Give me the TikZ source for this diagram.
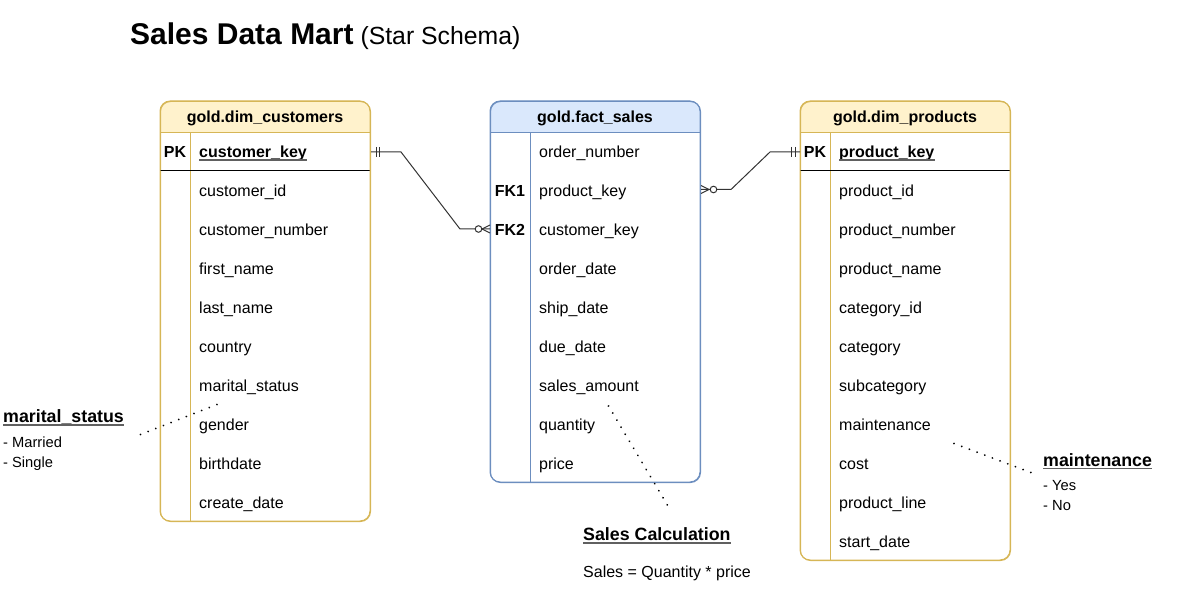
\documentclass[tikz,border=0pt]{standalone}
\usepackage{fontspec}
\setmainfont{Liberation Sans}
\definecolor{dimfill}{HTML}{FFF2CC}
\definecolor{dimline}{HTML}{D6B656}
\definecolor{factfill}{HTML}{DAE8FC}
\definecolor{factline}{HTML}{6C8EBF}
\definecolor{ulgray}{HTML}{606060}
\definecolor{conngray}{HTML}{333333}
\newcommand{\rowfnt}{\fontsize{16}{19}\selectfont}
\newcommand{\hdrfnt}{\fontsize{16}{19}\selectfont\bfseries}
\newcommand{\notehfnt}{\fontsize{17.8}{21}\selectfont\bfseries}
\newcommand{\noteifnt}{\fontsize{14.7}{17}\selectfont}
\begin{document}
\begin{tikzpicture}[x=1pt,y=-1pt,
  tbl/.style={draw=#1, rounded corners=10pt, line width=1pt, inner sep=0pt, anchor=north west, minimum width=210pt},
  row/.style={anchor=base west, inner sep=0pt, font=\rowfnt},
  keylbl/.style={anchor=base, inner sep=0pt, font=\hdrfnt},
  hdr/.style={anchor=base, inner sep=0pt, font=\hdrfnt},
  noteh/.style={anchor=base west, inner sep=0pt, font=\notehfnt},
  notei/.style={anchor=base west, inner sep=0pt, font=\noteifnt},
  conn/.style={draw=conngray, line width=1pt},
  dots/.style={draw=black, line width=2pt, line cap=round, dash pattern=on 0.01pt off 8.2pt},
  ul/.style={draw=ulgray, line width=1.6pt}
]
\useasboundingbox (0,0) rectangle (1180,593);

% ---------- title ----------
\node[anchor=base west, inner sep=0pt] (title) at (130,44.5)
  {\fontsize{30}{34}\selectfont\bfseries Sales Data Mart\fontsize{24.8}{28}\mdseries\ (Star Schema)};

% ---------- customers table ----------
\begin{scope}
  \clip[rounded corners=10pt] (160,101) rectangle (370,521);
  \fill[dimfill] (160,101) rectangle (370,133);
\end{scope}
\node[tbl=dimline, minimum height=420pt] (cust) at (160,101) {};
\draw[dimline, line width=1pt] (160,133) -- (370,133);
\draw[dimline, line width=1pt] (190,133) -- (190,521);
\draw[black, line width=1pt] (160,171) -- (370,171);
\draw[dimline, line width=1pt, rounded corners=10pt] (160,101) rectangle (370,521);
\node[hdr] (cust-t) at (265,122.5) {gold.dim\_customers};
\node[keylbl] (cust-pk) at (175,157.5) {PK};
\node[row, font=\hdrfnt] (c0) at (199,157.5) {customer\_key};
\draw[ul] ([yshift=-2.5pt]c0.base west) -- ([yshift=-2.5pt]c0.base east);
\foreach \t [count=\i from 1] in {{customer\_id},{customer\_number},{first\_name},{last\_name},{country},{marital\_status},{gender},{birthdate},{create\_date}}
  \node[row] (c\i) at (199,{157.5+39*\i}) {\t};

% ---------- fact table ----------
\begin{scope}
  \clip[rounded corners=10pt] (490,101) rectangle (700,482);
  \fill[factfill] (490,101) rectangle (700,133);
\end{scope}
\node[tbl=factline, minimum height=381pt] (fact) at (490,101) {};
\draw[factline, line width=1pt] (490,133) -- (700,133);
\draw[factline, line width=1pt] (530,133) -- (530,482);
\draw[factline, line width=1pt, rounded corners=10pt] (490,101) rectangle (700,482);
\node[hdr] (fact-t) at (595,122.5) {gold.fact\_sales};
\node[keylbl] (fact-fk1) at (510,196.5) {FK1};
\node[keylbl] (fact-fk2) at (510,235.5) {FK2};
\foreach \t [count=\i from 0] in {{order\_number},{product\_key},{customer\_key},{order\_date},{ship\_date},{due\_date},{sales\_amount},{quantity},{price}}
  \node[row] (f\i) at (539,{157.5+39*\i}) {\t};

% ---------- products table ----------
\begin{scope}
  \clip[rounded corners=10pt] (800,101) rectangle (1010,560);
  \fill[dimfill] (800,101) rectangle (1010,133);
\end{scope}
\node[tbl=dimline, minimum height=459pt] (prod) at (800,101) {};
\draw[dimline, line width=1pt] (800,133) -- (1010,133);
\draw[dimline, line width=1pt] (830,133) -- (830,560);
\draw[black, line width=1pt] (800,171) -- (1010,171);
\draw[dimline, line width=1pt, rounded corners=10pt] (800,101) rectangle (1010,560);
\node[hdr] (prod-t) at (905,122.5) {gold.dim\_products};
\node[keylbl] (prod-pk) at (815,157.5) {PK};
\node[row, font=\hdrfnt] (p0) at (839,157.5) {product\_key};
\draw[ul] ([yshift=-2.5pt]p0.base west) -- ([yshift=-2.5pt]p0.base east);
\foreach \t [count=\i from 1] in {{product\_id},{product\_number},{product\_name},{category\_id},{category},{subcategory},{maintenance},{cost},{product\_line},{start\_date}}
  \node[row] (p\i) at (839,{157.5+39*\i}) {\t};

% ---------- connectors ----------
\coordinate (ca) at ([yshift=5.5pt]c0.base -| cust.east);
\coordinate (fa) at ([yshift=6.5pt]f2.base -| fact.west);
\draw[conn] (ca) -- ++(30,0) -- ([xshift=-30pt]fa) -- (fa);
\draw[conn] ([xshift=5pt]ca) ++(0,-5) -- ++(0,10);
\draw[conn] ([xshift=8.5pt]ca) ++(0,-5) -- ++(0,10);
\draw[conn, fill=white] ([xshift=-11.5pt]fa) circle (3.3pt);
\draw[conn] ([xshift=-8pt]fa) -- ([yshift=-4pt]fa);
\draw[conn] ([xshift=-8pt]fa) -- ([yshift=4pt]fa);

\coordinate (fb) at ([yshift=7pt]f1.base -| fact.east);
\coordinate (pb) at ([yshift=5.5pt]p0.base -| prod.west);
\draw[conn] (fb) -- ++(30,0) -- ([xshift=-30pt]pb) -- (pb);
\draw[conn] ([xshift=-5pt]pb) ++(0,-5) -- ++(0,10);
\draw[conn] ([xshift=-8.5pt]pb) ++(0,-5) -- ++(0,10);
\draw[conn, fill=white] ([xshift=12.5pt]fb) circle (3.3pt);
\draw[conn] ([xshift=8pt]fb) -- ([yshift=-4pt]fb);
\draw[conn] ([xshift=8pt]fb) -- ([yshift=4pt]fb);

% ---------- notes ----------
\node[noteh] (ms) at (3,422.5) {marital\_status};
\draw[ul] ([yshift=-2.5pt]ms.base west) -- ([yshift=-2.5pt]ms.base east);
\node[notei] (ms1) at (3,447) {- Married};
\node[notei] (ms2) at (3,467) {- Single};
\coordinate (msa) at (140.5,434.5);
\coordinate (msb) at (217,404.5);
\draw[dots] (msa) -- (msb);

\node[noteh] (mt) at (1043,466) {maintenance};
\draw[ul] ([yshift=-2.5pt]mt.base west) -- ([yshift=-2.5pt]mt.base east);
\node[notei] (mt1) at (1043,490) {- Yes};
\node[notei] (mt2) at (1043,510.5) {- No};
\coordinate (mta) at (954,443.5);
\coordinate (mtb) at (1037.5,475);
\draw[dots] (mta) -- (mtb);

\node[noteh] (sc) at (583,540.5) {Sales Calculation};
\draw[ul] ([yshift=-2.5pt]sc.base west) -- ([yshift=-2.5pt]sc.base east);
\node[row] (sf) at (583,577.5) {Sales = Quantity * price};
\coordinate (sca) at (608.5,406);
\coordinate (scb) at (670,509.5);
\draw[dots] (sca) -- (scb);
\end{tikzpicture}
\end{document}
